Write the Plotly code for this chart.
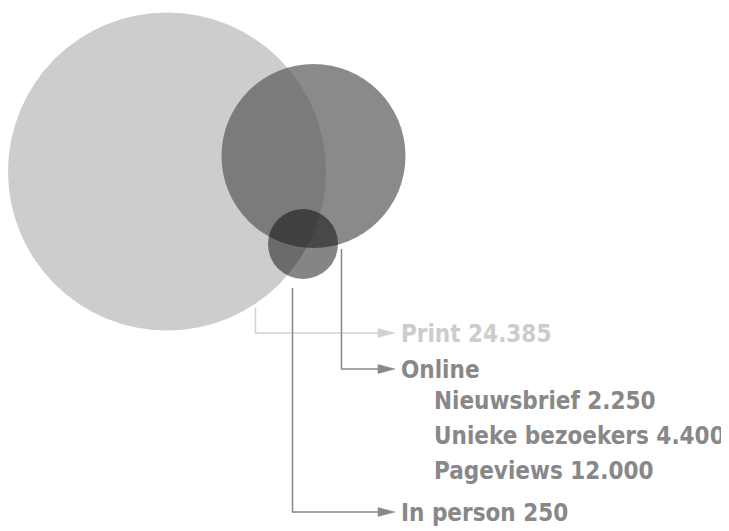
import plotly.graph_objects as go

# ---- data ----
channels = ["Print", "Online", "In person"]
channel_values = [24385, None, 250]
online_items = ["Nieuwsbrief", "Unieke bezoekers", "Pageviews"]
online_values = [2250, 4400, 12000]

def nl(v):
    return f"{v:,}".replace(",", ".")

# ---- layout constants (pixel-like coordinates) ----
W, H = 729, 531
OFF = 8  # page body margin
circles = [  # cx, cy, r, fill
    (167, 171.5, 159, "#cdcdcd"),
    (313.5, 156, 92, "rgba(85,85,85,0.69)"),
    (303, 244, 35, "rgba(0,0,0,0.48)"),
]
connectors = [  # x_vertical, y_start, y_end, colour
    (255.5, 308, 333, "#d2d2d2"),
    (341.5, 249, 369, "#888888"),
    (292.5, 288, 512, "#888888"),
]
arrow_tip_x = 395
arrow_len, arrow_half = 17, 4.5
text_x = 399
chan_colors = ["#cccccc", "#888888", "#888888"]
sub_x = 432
sub_y = [400, 435, 470]
FONT = "DejaVu Sans Condensed, sans-serif"
FS = 24

fig = go.Figure()

shapes = []
for cx, cy, r, fill in circles:
    shapes.append(dict(type="circle", xref="x", yref="y",
                       x0=cx - r, x1=cx + r, y0=cy - r, y1=cy + r,
                       fillcolor=fill, line=dict(width=0), layer="below"))

for (xv, y0, y1, col) in connectors:
    fig.add_trace(go.Scatter(x=[xv, xv, arrow_tip_x - arrow_len + 1], y=[y0, y1, y1],
                             mode="lines", line=dict(color=col, width=1.5),
                             hoverinfo="skip", showlegend=False))
    bx = arrow_tip_x - arrow_len
    fig.add_trace(go.Scatter(x=[bx, arrow_tip_x, bx, bx],
                             y=[y1 - arrow_half, y1, y1 + arrow_half, y1 - arrow_half],
                             mode="lines", fill="toself", fillcolor=col,
                             line=dict(color=col, width=0.5),
                             hoverinfo="skip", showlegend=False))

annotations = []
for i, (name, val) in enumerate(zip(channels, channel_values)):
    txt = name if val is None else f"{name} {nl(val)}"
    annotations.append(dict(x=text_x, y=connectors[i][2] + 1, xref="x", yref="y",
                            text=f"<b>{txt}</b>", showarrow=False,
                            xanchor="left", yanchor="middle",
                            font=dict(family=FONT, size=FS, color=chan_colors[i])))
for name, val, y in zip(online_items, online_values, sub_y):
    annotations.append(dict(x=sub_x, y=y + 1, xref="x", yref="y",
                            text=f"<b>{name} {nl(val)}</b>", showarrow=False,
                            xanchor="left", yanchor="middle",
                            font=dict(family=FONT, size=FS, color="#888888")))

fig.update_layout(
    width=W - OFF, height=H - OFF,
    margin=dict(l=0, r=0, t=0, b=0),
    paper_bgcolor="white", plot_bgcolor="white",
    xaxis=dict(range=[OFF, W], visible=False, fixedrange=True),
    yaxis=dict(range=[H, OFF], visible=False, fixedrange=True),
    shapes=shapes, annotations=annotations,
    showlegend=False,
)

fig.write_html("out.html")
